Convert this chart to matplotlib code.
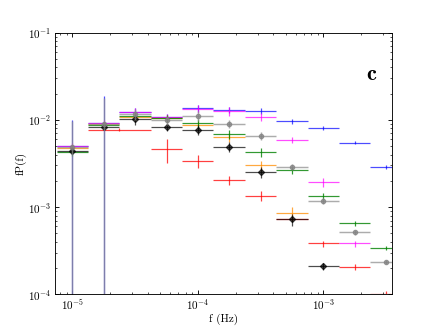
import numpy as np
import matplotlib
matplotlib.use("Agg")
import matplotlib.pyplot as plt

plt.rcParams['font.family'] = 'serif'
plt.rcParams['font.serif'] = ['cmr10', 'DejaVu Serif']
plt.rcParams['mathtext.fontset'] = 'cm'
plt.rcParams['axes.formatter.use_mathtext'] = True

# frequency bins (centres and edges, Hz)
freq = [1.00e-5, 1.78e-5, 3.16e-5, 5.62e-5, 1.00e-4, 1.78e-4, 3.16e-4, 5.62e-4, 1.00e-3, 1.78e-3, 3.16e-3]
f_lo = [7.50e-6, 1.33e-5, 2.37e-5, 4.22e-5, 7.50e-5, 1.33e-4, 2.37e-4, 4.22e-4, 7.50e-4, 1.33e-3, 2.37e-3]
f_hi = [1.33e-5, 2.37e-5, 4.22e-5, 7.50e-5, 1.33e-4, 2.37e-4, 4.22e-4, 7.50e-4, 1.33e-3, 2.37e-3, 4.22e-3]

nan = np.nan
blue    = [5.07e-3, 9.30e-3, 1.24e-2, 1.08e-2, 1.37e-2, 1.30e-2, 1.27e-2, 9.66e-3, 8.09e-3, 5.48e-3, 2.90e-3]
blue_e  = [5.00e-3, 9.30e-3, 1.20e-3, 1.00e-3, 1.30e-3, 1.10e-3, 1.10e-3, 6.00e-4, 4.00e-4, 2.50e-4, 1.50e-4]
magenta = [5.07e-3, 9.25e-3, 1.24e-2, 1.08e-2, 1.34e-2, 1.27e-2, 1.09e-2, 5.89e-3, 1.94e-3, 3.83e-4, nan]
mag_e   = [4.00e-4, 6.00e-4, 1.20e-3, 1.00e-3, 1.50e-3, 1.50e-3, 1.20e-3, 5.00e-4, 2.20e-4, 3.00e-5, nan]
grey    = [4.90e-3, 9.00e-3, 1.17e-2, 1.00e-2, 1.12e-2, 9.00e-3, 6.60e-3, 2.90e-3, 1.18e-3, 5.16e-4, 2.35e-4]
grey_e  = [4.90e-3, 9.00e-3, 1.70e-3, 1.20e-3, 1.40e-3, 1.00e-3, 7.00e-4, 2.50e-4, 1.00e-4, 3.50e-5, 1.50e-5]
green   = [4.30e-3, 8.70e-3, 1.11e-2, 1.04e-2, 9.16e-3, 6.85e-3, 4.26e-3, 2.64e-3, 1.34e-3, 6.50e-4, 3.41e-4]
green_e = [4.00e-4, 6.00e-4, 1.20e-3, 1.00e-3, 1.20e-3, 8.00e-4, 5.00e-4, 2.50e-4, 1.20e-4, 4.00e-5, 2.00e-5]
orange  = [4.73e-3, 8.90e-3, 1.08e-2, 1.05e-2, 8.80e-3, 6.33e-3, 3.01e-3, 8.47e-4, nan, nan, nan]
orng_e  = [4.00e-4, 6.00e-4, 1.20e-3, 1.00e-3, 1.00e-3, 8.00e-4, 4.00e-4, 1.50e-4, nan, nan, nan]
black   = [4.44e-3, 8.30e-3, 1.03e-2, 8.30e-3, 7.67e-3, 4.93e-3, 2.52e-3, 7.23e-4, 2.10e-4, nan, nan]
black_e = [4.00e-4, 6.00e-4, 1.50e-3, 8.00e-4, 1.00e-3, 6.00e-4, 3.50e-4, 1.10e-4, 2.00e-5, nan, nan]

red_f   = [2.37e-5, 5.62e-5, 1.00e-4, 1.78e-4, 3.16e-4, 5.62e-4, 1.00e-3, 1.78e-3, 3.16e-3]
red_lo  = [1.34e-5, 4.22e-5, 7.50e-5, 1.33e-4, 2.37e-4, 4.22e-4, 7.50e-4, 1.33e-3, 2.37e-3]
red_hi  = [4.22e-5, 7.50e-5, 1.33e-4, 2.37e-4, 4.22e-4, 7.50e-4, 1.33e-3, 2.37e-3, 4.22e-3]
red     = [7.70e-3, 4.64e-3, 3.38e-3, 2.04e-3, 1.35e-3, 7.40e-4, 3.83e-4, 2.06e-4, 1.02e-4]
red_e   = [3.00e-4, 1.40e-3, 6.00e-4, 2.50e-4, 1.80e-4, 5.00e-5, 3.00e-5, 1.50e-5, 8.00e-6]

fig = plt.figure(figsize=(5.45, 4.0875), dpi=80)
ax = fig.add_axes([0.125, 0.1, 0.775, 0.8])

def xerr_of(f, lo, hi):
    f = np.array(f); return [f - np.array(lo), np.array(hi) - f]

xe = xerr_of(freq, f_lo, f_hi)
lw = 1.1
ax.errorbar(red_f, red, yerr=red_e, xerr=xerr_of(red_f, red_lo, red_hi), fmt='none',
            ecolor='#ff0000', elinewidth=lw, alpha=0.75, zorder=2)
ax.errorbar(freq, blue, yerr=blue_e, xerr=xe, fmt='none', ecolor='#0000ff',
            elinewidth=lw, alpha=0.7, zorder=3)
ax.errorbar(freq, magenta, yerr=mag_e, xerr=xe, fmt='none', ecolor='#ff00ff',
            elinewidth=lw, alpha=0.7, zorder=3)
ax.errorbar(freq, orange, yerr=orng_e, xerr=xe, fmt='none', ecolor='#ff8c00',
            elinewidth=lw, alpha=0.75, zorder=3)
ax.errorbar(freq, green, yerr=green_e, xerr=xe, fmt='none', ecolor='#008000',
            elinewidth=lw, alpha=0.8, zorder=3)
ax.errorbar(freq, black, yerr=black_e, xerr=xe, fmt='D', color='black', ms=4,
            ecolor='black', elinewidth=lw, alpha=0.7, zorder=4)
ax.errorbar(freq, grey, yerr=grey_e, xerr=xe, fmt='o', color='#808080', ms=4,
            mec='#808080', ecolor='#909090', elinewidth=1.3, alpha=0.75, zorder=5)

ax.set_xscale('log')
ax.set_yscale('log')
ax.set_xlim(10**-5.143, 10**-2.45)
ax.set_ylim(1e-4, 1e-1)
ax.tick_params(which='both', direction='in', top=True, right=True, labelsize=10, pad=3)
ax.tick_params(which='major', length=4)
ax.tick_params(which='minor', length=2)
ax.set_xlabel('f (Hz)', fontsize=10, labelpad=1)
ax.set_ylabel('fP(f)', fontsize=10, labelpad=1)
ax.text(0.955, 0.82, r'$\mathbf{c}$', transform=ax.transAxes, fontsize=20, ha='right')

fig.savefig('out.png', dpi=80)
